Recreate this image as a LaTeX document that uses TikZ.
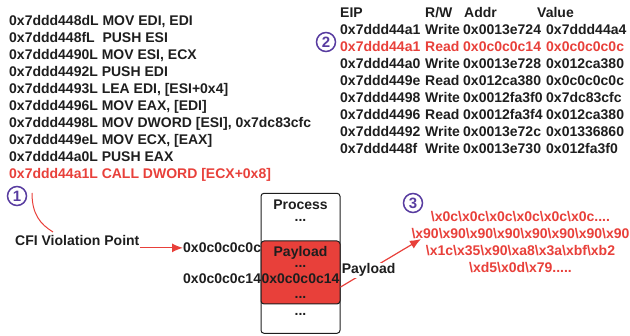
\documentclass[tikz,border=0pt]{standalone}
\usepackage{fontspec}
\setmainfont{Liberation Sans}
\usetikzlibrary{arrows.meta,positioning}
\definecolor{hotred}{RGB}{232,64,58}
\definecolor{markpurple}{RGB}{88,60,160}
\definecolor{inkgray}{RGB}{30,30,30}
\newcommand\hx[1]{\textbackslash x#1}
\newcommand\moredots[1]{\foreach\k in {1,...,#1}{.}}
\tikzset{
  asm/.style={anchor=base west, inner sep=0pt, text=inkgray, font=\bfseries\fontsize{14}{17}\selectfont},
  hot/.style={text=hotred},
  marker/.style={circle, draw=markpurple, line width=1.5pt, text=markpurple, minimum size=19pt, inner sep=0pt, font=\bfseries\fontsize{15}{15}\selectfont},
  memcell/.style={draw=inkgray, line width=1pt, rounded corners=3pt, minimum width=79pt, inner sep=0pt},
  redlink/.style={draw=hotred, line width=1.2pt},
  redtip/.style={-{Latex[length=11pt,width=9pt]}},
}
\begin{document}
\begin{tikzpicture}[x=1pt,y=-1pt]
\useasboundingbox (0,0) rectangle (630,336);
\foreach \ins [count=\i from 0] in {{0x7ddd448dL MOV EDI, EDI},{0x7ddd448fL\ \ PUSH ESI},{0x7ddd4490L MOV ESI, ECX},{0x7ddd4492L PUSH EDI},{0x7ddd4493L LEA EDI, [ESI+0x4]},{0x7ddd4496L MOV EAX, [EDI]},{0x7ddd4498L MOV DWORD [ESI], 0x7dc83cfc},{0x7ddd449eL MOV ECX, [EAX]},{0x7ddd44a0L PUSH EAX}}
  \node[asm] (code\i) at (9,26+17*\i) {\ins};
\node[asm, hot] (callins) at (9,179) {0x7ddd44a1L CALL DWORD [ECX+0x8]};
\node[asm] (heip) at (340,17.3) {EIP};
\node[asm] (hrw) at (425,17.3) {R/W};
\node[asm] (haddr) at (464,17.3) {Addr};
\node[asm] (hval) at (537,17.3) {Value};
\foreach \col/\eip/\rw/\addr/\val [count=\i] in {inkgray/0x7ddd44a1/Write/0x0013e724/0x7ddd44a4,hotred/0x7ddd44a1/Read/0x0c0c0c14/0x0c0c0c0c,inkgray/0x7ddd44a0/Write/0x0013e728/0x012ca380,inkgray/0x7ddd449e/Read/0x012ca380/0x0c0c0c0c,inkgray/0x7ddd4498/Write/0x0012fa3f0/0x7dc83cfc,inkgray/0x7ddd4496/Read/0x0012fa3f4/0x012ca380,inkgray/0x7ddd4492/Write/0x0013e72c/0x01336860,inkgray/0x7ddd448f/Write/0x0013e730/0x012fa3f0}
{
  \node[asm, text=\col] (eip\i) at (340,17.3+17*\i) {\eip};
  \node[asm, text=\col] (rw\i) at (425,17.3+17*\i) {\rw};
  \node[asm, text=\col] (addr\i) at (463,17.3+17*\i) {\addr};
  \node[asm, text=\col] (val\i) at (546,17.3+17*\i) {\val};
}
\node[marker] (markA) at (17,196) {1};
\node[marker] (markB) at (326,42) {2};
\node[marker] (markC) at (413,203) {3};
\node[asm] (cfi) at (15,246) {CFI Violation Point};
\coordinate (cfitail) at (32,193);
\coordinate (cfihead) at (53,232);
\draw[draw=hotred, line width=1pt] (cfitail) .. controls (32,214) and (40,224) .. (cfihead);
\node[memcell, minimum height=140pt] (proc) at (300.5,263.3) {};
\node[memcell, fill=hotred, minimum height=63pt] (payload) at (300.5,272.5) {};
\node[asm, anchor=base] (proctitle) at (300.5,210) {Process};
\node[asm, anchor=base] (procdots) at (300.5,221.5) {\moredots{3}};
\node[asm, anchor=base] (paytitle) at (300.5,256.7) {Payload};
\node[asm, anchor=base] (paydotsA) at (300.5,268) {\moredots{3}};
\node[asm, anchor=base] (payaddr) at (300.5,284) {0x0c0c0c14};
\node[asm, anchor=base] (paydotsB) at (300.5,299) {\moredots{3}};
\node[asm, anchor=base] (procdotsB) at (300.5,315.5) {\moredots{3}};
\node[asm] (addrA) at (183,252.7) {0x0c0c0c0c};
\node[asm] (addrB) at (183,284) {0x0c0c0c14};
\draw[redlink, redtip] (cfi.east |- addrA) -- (addrA.west);
\foreach \hex [count=\i from 0] in {{\hx{0c}\hx{0c}\hx{0c}\hx{0c}\hx{0c}\hx{0c}\moredots{4}},{\hx{90}\hx{90}\hx{90}\hx{90}\hx{90}\hx{90}\hx{90}\hx{90}},{\hx{1c}\hx{35}\hx{90}\hx{a8}\hx{3a}\hx{bf}\hx{b2}},{\hx{d5}\hx{0d}\hx{79}\moredots{5}}}
  \node[asm, hot, anchor=base] (hex\i) at (520.5,222+16.8*\i) {\hex};
\coordinate (payloadtip) at (421,239);
\draw[redlink, redtip] (payload.-20) -- node[pos=0.35, asm, anchor=center, fill=white, inner sep=1pt] (paylabel) {Payload} (payloadtip);
\end{tikzpicture}
\end{document}
